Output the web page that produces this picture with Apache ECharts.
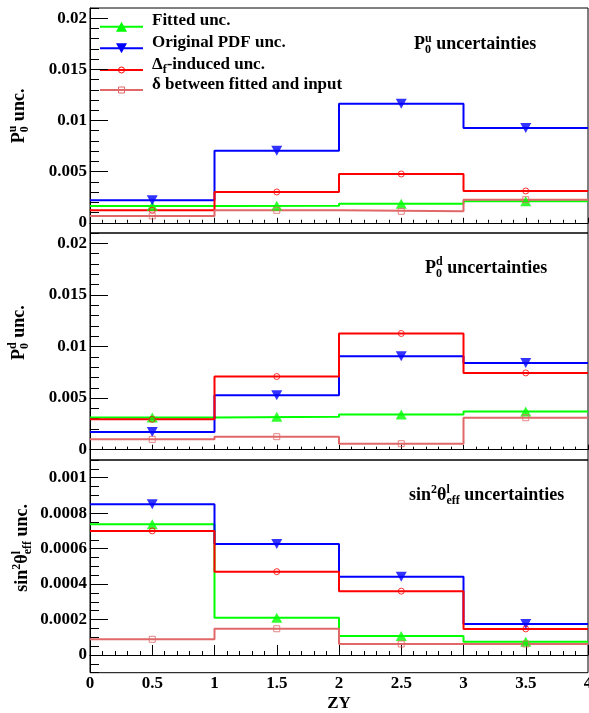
<!DOCTYPE html>
<html><head><meta charset="utf-8">
<script src="https://cdn.jsdelivr.net/npm/echarts@6/dist/echarts.min.js"></script>
<style>html,body{margin:0;padding:0;background:#fff}#c{width:589px;height:713px}</style>
</head><body><div id="c"></div>
<script>
// ---------- data ----------
const binEdges = [0, 1, 2, 3, 4];
const binCenters = [0.5, 1.5, 2.5, 3.5];
const xTickLabels = ['0', '0.5', '1', '1.5', '2', '2.5', '3', '3.5', '4'];
const seriesNames = ['Fitted unc.', 'Original PDF unc.', 'Δf-induced unc.', 'δ between fitted and input'];

// Panel 1: P0^u uncertainties
const p0uFitted   = [0.00164, 0.00167, 0.00187, 0.00210];
const p0uOriginal = [0.00220, 0.00705, 0.01165, 0.00927];
const p0uDeltaF   = [0.00122, 0.00301, 0.00477, 0.00311];
const p0uDiff     = [0.00067, 0.00122, 0.00112, 0.00226];

// Panel 2: P0^d uncertainties
const p0dFitted   = [0.00311, 0.00320, 0.00340, 0.00369];
const p0dOriginal = [0.00171, 0.00528, 0.00906, 0.00841];
const p0dDeltaF   = [0.00294, 0.00709, 0.01126, 0.00744];
const p0dDiff     = [0.00100, 0.00126, 0.00058, 0.00310];

// Panel 3: sin^2 theta_eff^l uncertainties
const sinFitted   = [0.000737, 0.000210, 0.000107, 0.000075];
const sinOriginal = [0.000850, 0.000626, 0.000442, 0.000175];
const sinDeltaF   = [0.000700, 0.000470, 0.000360, 0.000147];
const sinDiff     = [0.0000885, 0.000148, 0.000062, 0.000062];

const p0YTicks  = [0, 0.005, 0.01, 0.015, 0.02];
const sinYTicks = [0, 0.0002, 0.0004, 0.0006, 0.0008, 0.001];

// ---------- layout / style ----------
const FONT = '"Liberation Serif","Times New Roman",serif';
const colors = ['#00ff00', '#0000ff', '#ff0000', '#e06868'];
const markers = [
  {symbol: 'triangle', symbolSize: [11, 10], symbolRotate: 0, itemStyle: {color: colors[0]}},
  {symbol: 'triangle', symbolSize: [11, 10], symbolRotate: 180, itemStyle: {color: colors[1]}},
  {symbol: 'circle', symbolSize: 6, itemStyle: {color: 'rgba(0,0,0,0)', borderColor: colors[2], borderWidth: 1}},
  {symbol: 'rect', symbolSize: 6, itemStyle: {color: 'rgba(0,0,0,0)', borderColor: colors[3], borderWidth: 1}}
];
const panels = [
  {data: [p0uFitted, p0uOriginal, p0uDeltaF, p0uDiff], min: -0.001, max: 0.021, minor: 0.001, ticks: p0YTicks, top: 8, height: 225},
  {data: [p0dFitted, p0dOriginal, p0dDeltaF, p0dDiff], min: -0.001, max: 0.021, minor: 0.001, ticks: p0YTicks, top: 233, height: 227},
  {data: [sinFitted, sinOriginal, sinDeltaF, sinDiff], min: -0.0001, max: 0.0011, minor: 0.00005, ticks: sinYTicks, top: 460, height: 212.7}
];

const grids = [], xAxes = [], yAxes = [], series = [];
panels.forEach((p, pi) => {
  const last = pi === 2;
  grids.push({left: 90, width: 498, top: p.top, height: p.height, show: true, containLabel: false,
    outerBoundsMode: 'none',
    borderColor: '#000', borderWidth: 1, backgroundColor: 'transparent'});
  xAxes.push({
    type: 'value', gridIndex: pi, min: 0, max: 4, interval: 0.5,
    axisLine: {show: true, lineStyle: {color: '#000', width: 1}},
    axisTick: {show: true, inside: true, length: last ? 10 : 5, lineStyle: {color: '#000'}},
    minorTick: {show: true, splitNumber: 5, length: last ? 4 : 3, lineStyle: {color: '#000'}},
    splitLine: {show: false}, minorSplitLine: {show: false},
    axisLabel: {show: last, margin: 2, color: '#000', fontFamily: FONT, fontWeight: 'bold', fontSize: 17,
      formatter: v => xTickLabels[Math.round(v * 2)]},
    name: last ? 'ZY' : '', nameLocation: 'middle', nameGap: 22,
    nameTextStyle: {color: '#000', fontFamily: FONT, fontWeight: 'bold', fontSize: 17}
  });
  yAxes.push({
    type: 'value', gridIndex: pi, min: p.min, max: p.max, position: 'left',
    axisLine: {show: true, lineStyle: {color: '#000', width: 1}},
    axisTick: {show: true, inside: true, length: 18, customValues: p.ticks, lineStyle: {color: '#000'}},
    axisLabel: {customValues: p.ticks, margin: 3, color: '#000', fontFamily: FONT, fontWeight: 'bold', fontSize: 17,
      formatter: v => String(+(+v).toFixed(6))},
    splitLine: {show: false}
  });
  yAxes.push({
    type: 'value', gridIndex: pi, min: p.min, max: p.max, interval: p.minor, position: 'left', offset: 0,
    axisLine: {show: false},
    axisTick: {show: true, inside: true, length: 9, lineStyle: {color: '#000'}},
    axisLabel: {show: false}, splitLine: {show: false}
  });
  p.data.forEach((vals, k) => {
    series.push({
      type: 'line', name: seriesNames[k], xAxisIndex: pi, yAxisIndex: pi * 2, step: 'end', symbol: 'none',
      data: binEdges.map((e, i) => [e, vals[Math.min(i, vals.length - 1)]]),
      lineStyle: {color: colors[k], width: 2}, itemStyle: {color: colors[k]}, z: 2, silent: true
    });
    series.push(Object.assign({
      type: 'scatter', name: seriesNames[k], xAxisIndex: pi, yAxisIndex: pi * 2,
      data: binCenters.map((c, i) => [c, vals[i]]), z: 3, silent: true
    }, markers[k]));
  });
});

// ---------- text helpers ----------
const mctx = document.createElement('canvas').getContext('2d');
function tw(t, s) { mctx.font = 'bold ' + s + 'px ' + FONT; return mctx.measureText(t).width; }
function txt(x, dy, t, s) {
  return {type: 'text', x: x, y: dy - 0.34 * s, silent: true,
    style: {text: t, fontSize: s, fontFamily: FONT, fontWeight: 'bold', fill: '#000', align: 'left', verticalAlign: 'middle'}};
}
function label(x, y, rot, parts) {
  let cx = 0; const ch = [];
  parts.forEach(p => {
    if (p.stack) {
      let w = 0;
      p.stack.forEach(q => { ch.push(txt(cx, q.dy, q.t, q.s)); w = Math.max(w, tw(q.t, q.s)); });
      cx += w;
    } else {
      ch.push(txt(cx, p.dy || 0, p.t, p.s)); cx += tw(p.t, p.s);
    }
  });
  return {type: 'group', x: x, y: y, rotation: rot, children: ch, silent: true};
}
const SUP = -7.7, SUB = 3.5;
const graphics = [];
// panel titles
graphics.push(label(414, 50.7, 0, [{t: 'P', s: 18}, {stack: [{t: 'u', s: 12, dy: SUP}, {t: '0', s: 12, dy: SUB}]}, {t: ' uncertainties', s: 18}]));
graphics.push(label(425, 274, 0, [{t: 'P', s: 18}, {stack: [{t: 'd', s: 12, dy: SUP}, {t: '0', s: 12, dy: SUB}]}, {t: ' uncertainties', s: 18}]));
graphics.push(label(409, 501.7, 0, [{t: 'sin', s: 18}, {t: '2', s: 12, dy: SUP}, {t: 'θ', s: 18},
  {stack: [{t: 'l', s: 12, dy: SUP}, {t: 'eff', s: 12, dy: SUB}]}, {t: ' uncertainties', s: 18}]));
// y titles
graphics.push(label(25, 143.3, Math.PI / 2, [{t: 'P', s: 18}, {stack: [{t: 'u', s: 12, dy: SUP}, {t: '0', s: 12, dy: SUB}]}, {t: ' unc.', s: 18}]));
graphics.push(label(25, 360, Math.PI / 2, [{t: 'P', s: 18}, {stack: [{t: 'd', s: 12, dy: SUP}, {t: '0', s: 12, dy: SUB}]}, {t: ' unc.', s: 18}]));
graphics.push(label(28.3, 591.7, Math.PI / 2, [{t: 'sin', s: 18}, {t: '2', s: 12, dy: SUP}, {t: 'θ', s: 18},
  {stack: [{t: 'l', s: 12, dy: SUP}, {t: 'eff', s: 12, dy: SUB}]}, {t: ' unc.', s: 18}]));

// legend (panel 1)
const legendRows = [26.7, 48.3, 70, 90];
const legendTexts = [
  [{t: seriesNames[0], s: 17}],
  [{t: seriesNames[1], s: 17}],
  [{t: 'Δ', s: 17}, {t: 'f', s: 12, dy: 4}, {t: '-induced unc.', s: 17}],
  [{t: seriesNames[3], s: 17}]
];
legendRows.forEach((y, k) => {
  graphics.push({type: 'line', silent: true, shape: {x1: 100, y1: y, x2: 143, y2: y}, style: {stroke: colors[k], lineWidth: 2}});
  const cx = 121.5;
  if (k === 0) graphics.push({type: 'polygon', silent: true, shape: {points: [[cx - 5.5, y + 5], [cx + 5.5, y + 5], [cx, y - 5]]}, style: {fill: colors[k]}});
  if (k === 1) graphics.push({type: 'polygon', silent: true, shape: {points: [[cx - 5.5, y - 5], [cx + 5.5, y - 5], [cx, y + 5]]}, style: {fill: colors[k]}});
  if (k === 2) graphics.push({type: 'circle', silent: true, shape: {cx: cx, cy: y, r: 3}, style: {fill: 'none', stroke: colors[k], lineWidth: 1}});
  if (k === 3) graphics.push({type: 'rect', silent: true, shape: {x: cx - 3, y: y - 3, width: 6, height: 6}, style: {fill: 'none', stroke: colors[k], lineWidth: 1}});
  graphics.push(label(152, y, 0, legendTexts[k]));
});

const chart = echarts.init(document.getElementById('c'), null, {renderer: 'canvas'});
chart.setOption({
  animation: false,
  backgroundColor: '#fff',
  grid: grids, xAxis: xAxes, yAxis: yAxes, series: series,
  graphic: graphics
});
</script></body></html>
